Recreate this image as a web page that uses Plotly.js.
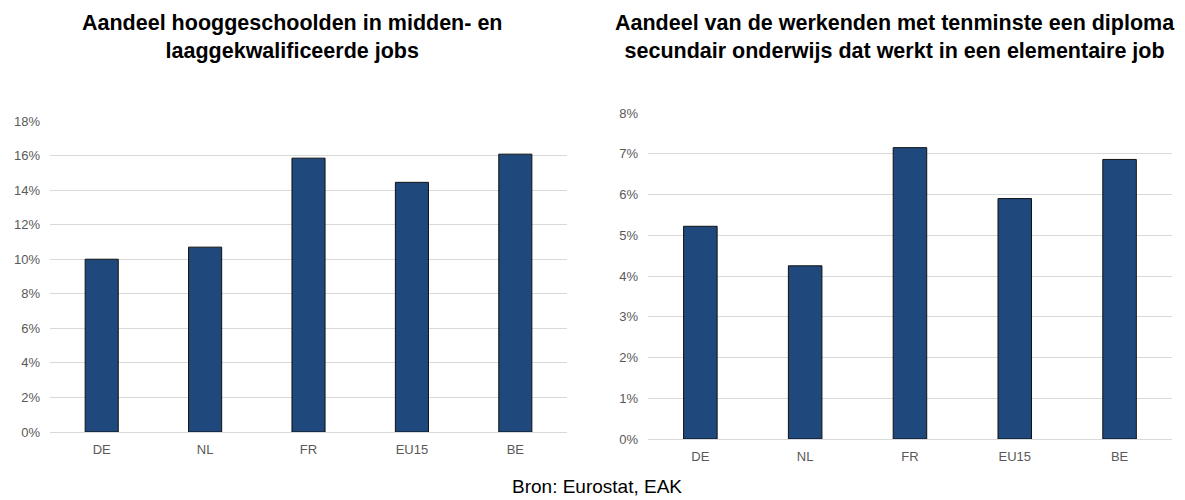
<!DOCTYPE html>
<html><head><meta charset="utf-8">
<script src="https://cdn.plot.ly/plotly-3.0.1.min.js"></script>
<style>body{margin:0;background:#fff}#c{width:1185px;height:500px}</style>
</head><body><div id="c"></div>
<script>
const categories = ["DE", "NL", "FR", "EU15", "BE"];
const hooggeschooldenPct = [10.0, 10.7, 15.85, 14.45, 16.08];
const secundairPct = [5.22, 4.25, 7.15, 5.9, 6.86];
const leftTicks = [0, 2, 4, 6, 8, 10, 12, 14, 16, 18];
const rightTicks = [0, 1, 2, 3, 4, 5, 6, 7, 8];
const title1 = "Aandeel hooggeschoolden in midden- en<br>laaggekwalificeerde jobs";
const title2 = "Aandeel van de werkenden met tenminste een diploma<br>secundair onderwijs dat werkt in een elementaire job";
const source = "Bron: Eurostat, EAK";

const font = '"Liberation Sans", Arial, sans-serif';
const barStyle = {color: "#1f497d", line: {color: "#111111", width: 1}};

const traces = [
  {type: "bar", x: categories, y: hooggeschooldenPct, marker: barStyle, xaxis: "x", yaxis: "y", hoverinfo: "x+y"},
  {type: "bar", x: categories, y: secundairPct, marker: barStyle, xaxis: "x2", yaxis: "y2", hoverinfo: "x+y"}
];

const xcommon = {showgrid: false, zeroline: false, showline: false, ticks: "", ticklabelstandoff: 8, tickfont: {family: font, size: 13, color: "#595959"}};
const ycommon = {showgrid: true, gridcolor: "#d9d9d9", gridwidth: 1, zeroline: true, zerolinecolor: "#d9d9d9", showline: false, ticks: "", ticklabelstandoff: 9, tickmode: "array", tickfont: {family: font, size: 13, color: "#595959"}};

const layout = {
  width: 1185, height: 500,
  margin: {l: 0, r: 0, t: 0, b: 0},
  paper_bgcolor: "#fff", plot_bgcolor: "#fff",
  showlegend: false,
  bargap: 0.68,
  xaxis: Object.assign({}, xcommon, {domain: [0.0422, 0.4785], anchor: "y"}),
  yaxis: Object.assign({}, ycommon, {domain: [0.136, 0.758], range: [0, 18], tickvals: leftTicks, ticktext: leftTicks.map(v => v + "%"), anchor: "x"}),
  xaxis2: Object.assign({}, xcommon, {domain: [0.5468, 0.989], anchor: "y2"}),
  yaxis2: Object.assign({}, ycommon, {domain: [0.122, 0.774], range: [0, 8], tickvals: rightTicks, ticktext: rightTicks.map(v => v + "%"), anchor: "x2"}),
  annotations: [
    {text: "<b>" + title1 + "</b>", xref: "paper", yref: "paper", x: 292/1185, y: 1 - 9/500, xanchor: "center", yanchor: "top", showarrow: false, font: {family: font, size: 21.5, color: "#000"}},
    {text: "<b>" + title2 + "</b>", xref: "paper", yref: "paper", x: 895/1185, y: 1 - 9/500, xanchor: "center", yanchor: "top", showarrow: false, font: {family: font, size: 21.5, color: "#000"}},
    {text: source, xref: "paper", yref: "paper", x: 597/1185, y: 1 - 486/500, xanchor: "center", yanchor: "middle", showarrow: false, font: {family: font, size: 19, color: "#000"}}
  ]
};
Plotly.newPlot("c", traces, layout, {displayModeBar: false, staticPlot: true});
</script></body></html>
